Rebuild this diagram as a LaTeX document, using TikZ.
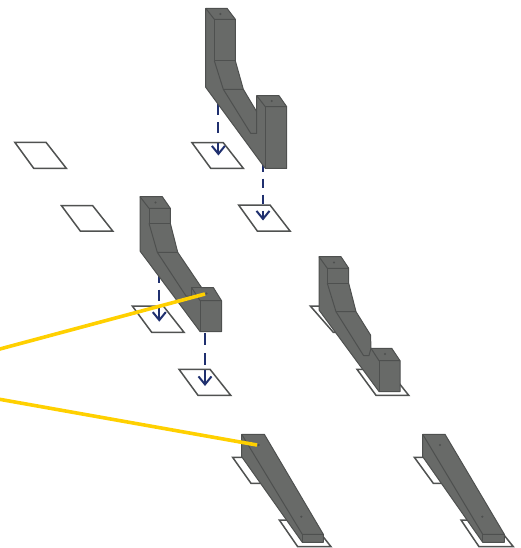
\documentclass[tikz,border=0pt]{standalone}
\usetikzlibrary{arrows.meta}
\definecolor{steel}{HTML}{686A68}
\definecolor{edgec}{HTML}{4E504F}
\definecolor{frame}{HTML}{505251}
\definecolor{navy}{HTML}{20306F}
\definecolor{leader}{HTML}{FFD000}
\tikzset{
  pad/.style={draw=frame,line width=1.5pt,fill=white,line join=miter},
  body/.style={fill=steel,draw=edgec,line width=1pt,line join=round},
  crease/.style={draw=edgec,line width=1pt,line join=round},
  hole/.style={fill=edgec,draw=none},
  drop/.style={draw=navy,line width=2pt,dash pattern=on 11pt off 7pt},
  drop end/.style={draw=navy,line width=2pt,-{Straight Barb[length=8pt,width=13pt,line width=2pt]}},
  callout/.style={draw=leader,line width=3.6pt}
}
\begin{document}
\begin{tikzpicture}[x=1pt,y=-1pt]
\useasboundingbox (0,0) rectangle (521,548);
% loose pads
\draw[pad] (14.8,142.3) -- (46,142.3) -- (66.3,168.3) -- (33.7,168.3) -- cycle;
\draw[pad] (61.5,205.7) -- (92.7,205.7) -- (112.7,231) -- (80.3,231) -- cycle;
% --- part 1 (top)
\draw[pad] (192,142.7) -- (223.3,142.7) -- (243.3,168.3) -- (210.7,168.3) -- cycle;
\draw[pad] (238.6,205) -- (270,205) -- (290,231) -- (257.3,231) -- cycle;
\coordinate (a1s) at (218.4,86.5); \coordinate (a1d) at (218.4,133.5); \coordinate (a1m) at (218.4,143); \coordinate (a1e) at (218.4,155.5);
\coordinate (a2s) at (263,162.5); \coordinate (a2d) at (263,203.5); \coordinate (a2m) at (263,210.5); \coordinate (a2e) at (263,220.5);
\draw[drop] (a1s) -- (a1d);
\draw[drop end] (a1m) -- (a1e);
\draw[drop,dash pattern=on 9pt off 7pt] (a2s) -- (a2d);
\draw[drop end] (a2m) -- (a2e);
\draw[body] (205.7,8.3) -- (227,8.3) -- (235.3,19.3) -- (235.3,60.7) -- (243.3,89.3) -- (256.7,111.7) -- (256.7,95.7) -- (279,95.7) -- (286.7,106.7) -- (286.7,168.3) -- (265.3,168.3) -- (263.3,165.7) -- (205.7,87.3) -- cycle;
\draw[crease] (205.7,8.3) -- (214.3,19.3) -- (235.3,19.3);
\draw[crease] (214.3,19.3) -- (214.3,60.7) -- (235.3,60.7);
\draw[crease] (214.3,60.7) -- (223.3,89.3) -- (243.3,89.3);
\draw[crease] (223.3,89.3) -- (250.7,133.3) -- (256.7,133.3) -- (256.7,111.7);
\draw[crease] (256.7,95.7) -- (265.3,106.7) -- (286.7,106.7);
\draw[crease] (265.3,106.7) -- (265.3,168.3);
\fill[hole] (220.3,14) circle (1.2pt);
\fill[hole] (271.7,101) circle (1.2pt);
% --- part 2 (middle)
\draw[pad] (132.3,306) -- (163.3,306) -- (184,332.3) -- (151.7,332.3) -- cycle;
\draw[pad] (179,369.3) -- (210,369.3) -- (230.7,395.3) -- (198,395.3) -- cycle;
\coordinate (b1s) at (159.3,253.5); \coordinate (b1d) at (159.3,300.5); \coordinate (b1m) at (159.3,306.7); \coordinate (b1e) at (159.3,321.7);
\coordinate (b2s) at (205,333); \coordinate (b2d) at (205,365); \coordinate (b2m) at (205,370); \coordinate (b2e) at (205,386);
\draw[drop] (b1s) -- (b1d);
\draw[drop end] (b1m) -- (b1e);
\draw[drop,dash pattern=on 12pt off 8pt] (b2s) -- (b2d);
\draw[drop end] (b2m) -- (b2e);
\draw[body] (140,196.7) -- (162.3,196.7) -- (170.3,208.3) -- (170.3,223.3) -- (177.7,252.3) -- (201.5,287.5) -- (213.3,287.5) -- (221.5,300.7) -- (221.5,331.7) -- (200.2,331.7) -- (140,251) -- cycle;
\draw[crease] (140,196.7) -- (149,208.3) -- (170.3,208.3);
\draw[crease] (149,208.3) -- (149,223.3) -- (170.3,223.3);
\draw[crease] (149,223.3) -- (157.3,252.3) -- (177.7,252.3);
\draw[crease] (157.3,252.3) -- (186,296) -- (191.5,296);
\draw[crease] (191.5,296) -- (191.5,287.5) -- (201.5,287.5);
\draw[crease] (191.5,287.5) -- (200.2,300.7) -- (221.5,300.7);
\draw[crease] (200.2,300.7) -- (200.2,331.7);
\fill[hole] (155.5,202.5) circle (1.2pt);
\fill[hole] (206.5,293.5) circle (1.2pt);
% --- part 3
\draw[pad] (310.3,306) -- (341,306) -- (361,332.3) -- (333.3,332.3) -- cycle;
\draw[pad] (357,369.3) -- (388,369.3) -- (408.7,395.3) -- (376,395.3) -- cycle;
\draw[body] (319,256.7) -- (341,256.7) -- (348.7,268.3) -- (348.7,283.3) -- (356,311.7) -- (370.5,335) -- (371,348.3) -- (391.7,348.3) -- (400,360.7) -- (400,391.5) -- (379,391.5) -- (319,310) -- cycle;
\draw[crease] (319,256.7) -- (327.3,268.3) -- (348.7,268.3);
\draw[crease] (327.3,268.3) -- (327.3,283.3) -- (348.7,283.3);
\draw[crease] (327.3,283.3) -- (336,311.7) -- (356,311.7);
\draw[crease] (336,311.7) -- (363.5,355.5) -- (369,355.5) -- (371,348.3);
\draw[crease] (371,348.3) -- (379,360.7) -- (400,360.7);
\draw[crease] (379,360.7) -- (379,391.5);
\fill[hole] (334,262.5) circle (1.2pt);
\fill[hole] (385,354) circle (1.2pt);
% --- part 4
\draw[pad] (232.6,457.3) -- (262,457.3) -- (280,483.3) -- (251,483.3) -- cycle;
\draw[pad] (279.3,520) -- (310,520) -- (331,546.7) -- (297.7,546.7) -- cycle;
\draw[body] (241.7,434.3) -- (264.3,434.3) -- (323.3,534.3) -- (323.3,542.3) -- (302.3,542.3) -- (241.7,456.7) -- cycle;
\draw[crease] (241.7,434.3) -- (302.3,534.3) -- (323.3,534.3);
\draw[crease] (302.3,534.3) -- (302.3,542.3);
\fill[hole] (258.7,445) circle (1.2pt);
\fill[hole] (301.3,516.7) circle (1.2pt);
% --- part 5
\draw[pad] (414.3,457.3) -- (444,457.3) -- (462,483.3) -- (433.3,483.3) -- cycle;
\draw[pad] (461,520) -- (492,520) -- (513.3,546.7) -- (479,546.7) -- cycle;
\draw[body] (422.7,434.3) -- (445,434.3) -- (504.3,534.3) -- (504.3,542.3) -- (482.7,542.3) -- (422.7,456.7) -- cycle;
\draw[crease] (422.7,434.3) -- (482.7,534.3) -- (504.3,534.3);
\draw[crease] (482.7,534.3) -- (482.7,542.3);
\fill[hole] (440,445) circle (1.2pt);
\fill[hole] (482.3,516.7) circle (1.2pt);
% callouts
\coordinate (y1a) at (-2,349.5); \coordinate (y1b) at (205,294);
\coordinate (y2a) at (-2,399); \coordinate (y2b) at (257,445);
\draw[callout] (y1a) -- (y1b);
\draw[callout] (y2a) -- (y2b);
\end{tikzpicture}
\end{document}
